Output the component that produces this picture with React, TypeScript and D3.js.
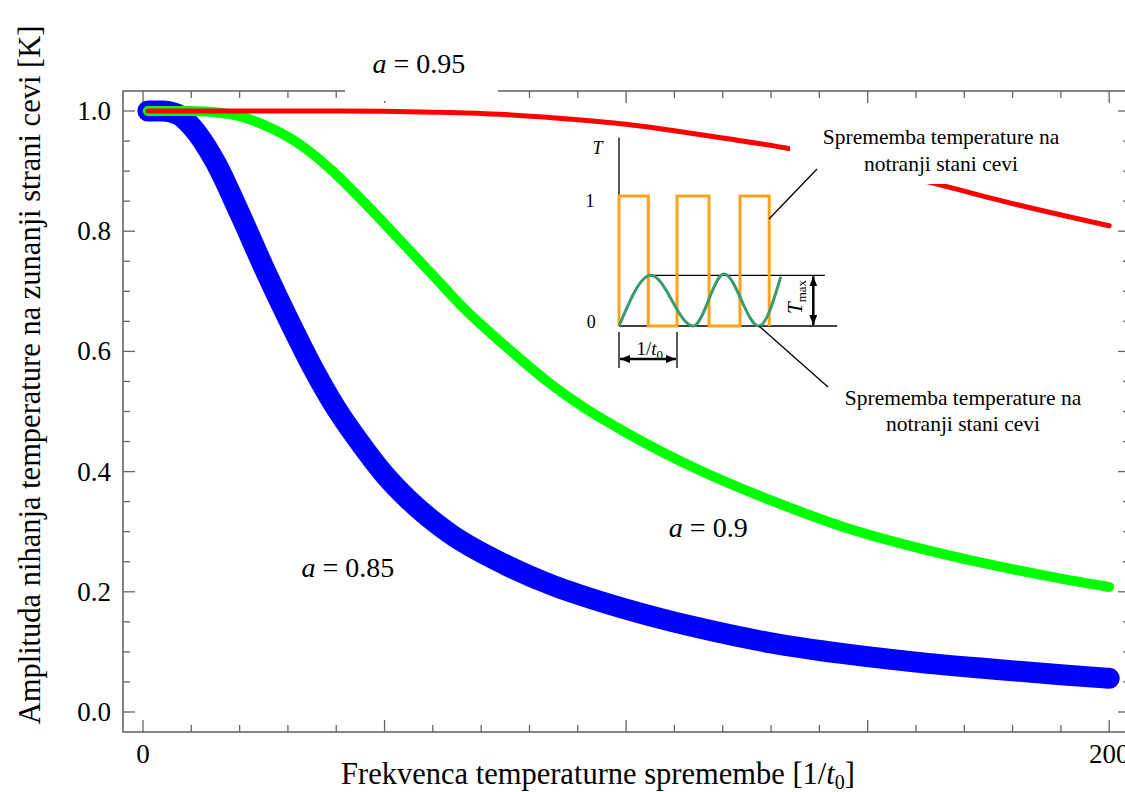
import * as d3 from 'd3';

// ── Data ─────────────────────────────────────────────────────────────────────
const FREQ_085 = [1, 4, 7, 10, 15, 20, 25, 30, 35, 40, 45, 50, 55, 63.5, 75, 85, 95, 105, 115, 130, 145, 160, 175, 190, 200];
const AMP_085  = [1, 1, 0.995, 0.975, 0.915, 0.83, 0.74, 0.655, 0.575, 0.505, 0.447, 0.395, 0.353, 0.297, 0.245, 0.21, 0.183, 0.16, 0.14, 0.115, 0.097, 0.083, 0.072, 0.062, 0.056];

const FREQ_090 = [1, 10, 18, 25, 32, 39, 46, 52.5, 59.5, 66, 77, 84, 91, 100, 115, 130, 145, 160, 175, 190, 200];
const AMP_090  = [1, 1, 0.995, 0.977, 0.947, 0.902, 0.846, 0.791, 0.731, 0.675, 0.595, 0.548, 0.508, 0.465, 0.403, 0.352, 0.308, 0.274, 0.246, 0.222, 0.208];

const FREQ_095 = [1, 20, 40, 60, 75, 86, 100, 110, 120, 134, 150, 165, 180, 200];
const AMP_095  = [1, 1, 1, 0.998, 0.994, 0.988, 0.978, 0.967, 0.955, 0.937, 0.907, 0.877, 0.846, 0.809];

const X_TICK_LABELS = [0, 200];
const Y_TICK_LABELS = [0, 0.2, 0.4, 0.6, 0.8, 1.0];

// inset schematic: square wave switching times (in periods) and response curve
const SQUARE_EDGES = [0, 0.505, 1.0, 1.552, 2.086, 2.59];
const RESP_T = [0, 0.55, 1.28, 1.81, 2.41, 2.79];
const RESP_V = [0, 0.39, 0, 0.4, 0, 0.38];
const T_MAX = 0.39;

// ── Layout ───────────────────────────────────────────────────────────────────
const W = 1125;
const H = 792;
const FONT = "'Liberation Serif', 'Times New Roman', serif";

const BLUE = '#0000ff';
const GREEN = '#00ff00';
const RED = '#ff0000';
const ORANGE = '#ffa31a';
const SEA = '#3a9a6c';
const FRAME = '#444';
const TICK = '#666';

const x = d3.scaleLinear().domain([-4.14, 204.3]).range([123, 1130]);
const y = d3.scaleLinear().domain([-0.0333, 1.0333]).range([732, 91]);

// inset scales
const ix = d3.scaleLinear().domain([0, 1]).range([619, 677]);
const iy = d3.scaleLinear().domain([0, 1]).range([326, 196]);

const line = d3.line<[number, number]>()
  .x(d => x(d[0]))
  .y(d => y(d[1]))
  .curve(d3.curveMonotoneX);

const zip = (a: number[], b: number[]) => a.map((v, i) => [v, b[i]] as [number, number]);

export default function App() {
  const [x0, x1] = x.range();
  const [y0, y1] = y.range();

  const xMajor = d3.range(0, 201, 50);
  const xMinor = d3.range(0, 201, 10).filter(v => v % 50 !== 0);
  const yMajor = d3.range(0, 1.001, 0.2);
  const yMinor = d3.range(0, 1.001, 0.05).filter(v => Math.abs(v / 0.2 - Math.round(v / 0.2)) > 0.01);

  // square wave polyline
  const sq: [number, number][] = [];
  SQUARE_EDGES.forEach((t, i) => {
    const up = i % 2 === 0;
    sq.push([t, up ? 0 : 1]);
    sq.push([t, up ? 1 : 0]);
  });
  const sqPath = d3.line<[number, number]>().x(d => ix(d[0])).y(d => iy(d[1]))(sq) ?? '';
  const respPath = d3.line<[number, number]>()
    .x(d => ix(d[0])).y(d => iy(d[1]))
    .curve(d3.curveMonotoneX)(zip(RESP_T, RESP_V)) ?? '';

  return (
    <svg width={W} height={H} viewBox={`0 0 ${W} ${H}`}
      style={{ position: 'absolute', left: 0, top: 0, background: '#fff' }}
      fontFamily={FONT}>
      <defs>
        <marker id="ah" viewBox="0 0 10 8" refX={10} refY={4} markerWidth={10} markerHeight={8}
          markerUnits="userSpaceOnUse" orient="auto-start-reverse">
          <path d="M0,0 L10,4 L0,8 z" fill="#000" />
        </marker>
      </defs>
      <rect width={W} height={H} fill="#fff" />

      {/* frame */}
      <rect x={x0} y={y1} width={x1 - x0} height={y0 - y1} fill="none" stroke={FRAME} strokeWidth={1.3} />

      {/* x ticks, bottom and top */}
      {xMajor.map(v => (
        <g key={'xM' + v} stroke={TICK} strokeWidth={1.3}>
          <line x1={x(v)} x2={x(v)} y1={y0} y2={y0 - 12} />
          <line x1={x(v)} x2={x(v)} y1={y1} y2={y1 + 12} />
        </g>
      ))}
      {xMinor.map(v => (
        <g key={'xm' + v} stroke={TICK} strokeWidth={1.3}>
          <line x1={x(v)} x2={x(v)} y1={y0} y2={y0 - 7} />
          <line x1={x(v)} x2={x(v)} y1={y1} y2={y1 + 7} />
        </g>
      ))}
      {/* y ticks, left and right */}
      {yMajor.map(v => (
        <g key={'yM' + v} stroke={TICK} strokeWidth={1.3}>
          <line x1={x0} x2={x0 + 12} y1={y(v)} y2={y(v)} />
          <line x1={x1} x2={x1 - 12} y1={y(v)} y2={y(v)} />
        </g>
      ))}
      {yMinor.map(v => (
        <g key={'ym' + v} stroke={TICK} strokeWidth={1.3}>
          <line x1={x0} x2={x0 + 7} y1={y(v)} y2={y(v)} />
          <line x1={x1} x2={x1 - 7} y1={y(v)} y2={y(v)} />
        </g>
      ))}

      {/* tick labels */}
      {X_TICK_LABELS.map(v => (
        <text key={'xl' + v} x={x(v)} y={763} textAnchor="middle" fontSize={27}>{v}</text>
      ))}
      {Y_TICK_LABELS.map(v => (
        <text key={'yl' + v} x={111} y={y(v) + 9} textAnchor="end" fontSize={27}>{v.toFixed(1)}</text>
      ))}

      {/* axis titles */}
      <text x={598} y={784} textAnchor="middle" fontSize={30.5}>
        Frekvenca temperaturne spremembe [1/<tspan fontStyle="italic">t</tspan>
        <tspan fontSize={20} dy={5}>0</tspan><tspan dy={-5}>]</tspan>
      </text>
      <text transform="translate(40,375) rotate(-90)" textAnchor="middle" fontSize={30.5}>
        Amplituda nihanja temperature na zunanji strani cevi [K]
      </text>

      {/* curves */}
      <path d={line(zip(FREQ_085, AMP_085)) ?? ''} fill="none" stroke={BLUE} strokeWidth={21}
        strokeLinecap="round" strokeLinejoin="round" />
      <path d={line(zip(FREQ_090, AMP_090)) ?? ''} fill="none" stroke={GREEN} strokeWidth={10}
        strokeLinecap="round" strokeLinejoin="round" />
      <path d={line(zip(FREQ_095, AMP_095)) ?? ''} fill="none" stroke={RED} strokeWidth={5}
        strokeLinecap="round" strokeLinejoin="round" />

      {/* label boxes (white backgrounds) */}
      <rect x={345} y={30} width={153} height={71} fill="#fff" />
      <rect x={790} y={112} width={302} height={72} fill="#fff" />

      {/* curve labels */}
      <text x={x(57.1)} y={y(1.063)} textAnchor="middle" fontSize={28}>
        <tspan fontStyle="italic">a</tspan> = 0.95
      </text>
      <text x={x(117)} y={y(0.291)} textAnchor="middle" fontSize={28}>
        <tspan fontStyle="italic">a</tspan> = 0.9
      </text>
      <text x={x(42.4)} y={y(0.2246)} textAnchor="middle" fontSize={28}>
        <tspan fontStyle="italic">a</tspan> = 0.85
      </text>

      {/* inset schematic */}
      <g>
        <line x1={ix(0)} x2={ix(0)} y1={iy(1.45)} y2={iy(0)} stroke="#000" strokeWidth={1.3} />
        <line x1={ix(0)} x2={ix(3.76)} y1={iy(0)} y2={iy(0)} stroke="#000" strokeWidth={1.3} />
        <line x1={ix(RESP_T[1])} x2={ix(3.55)} y1={iy(T_MAX)} y2={iy(T_MAX)} stroke="#000" strokeWidth={1.3} />
        <path d={sqPath} fill="none" stroke={ORANGE} strokeWidth={3} />
        <path d={respPath} fill="none" stroke={SEA} strokeWidth={3} />

        {/* Tmax dimension */}
        <line x1={ix(3.35)} x2={ix(3.35)} y1={iy(T_MAX) + 1} y2={iy(0) - 1} stroke="#000" strokeWidth={2.5}
          markerStart="url(#ah)" markerEnd="url(#ah)" />
        <text transform={`translate(${ix(3.03) + 7},${iy(0.223)}) rotate(-90)`} textAnchor="middle" fontSize={21}>
          <tspan fontStyle="italic">T</tspan><tspan fontSize={13} dy={4}>max</tspan>
        </text>

        {/* 1/t0 dimension */}
        <line x1={ix(0)} x2={ix(0)} y1={iy(-0.046)} y2={iy(-0.323)} stroke="#000" strokeWidth={1.3} />
        <line x1={ix(1)} x2={ix(1)} y1={iy(-0.046)} y2={iy(-0.323)} stroke="#000" strokeWidth={1.3} />
        <line x1={ix(0) + 1} x2={ix(1) - 1} y1={iy(-0.254)} y2={iy(-0.254)} stroke="#000" strokeWidth={2.5}
          markerStart="url(#ah)" markerEnd="url(#ah)" />
        <text x={ix(0.53)} y={iy(-0.223)} textAnchor="middle" fontSize={19}>
          1/<tspan fontStyle="italic">t</tspan><tspan fontSize={13} dy={4}>0</tspan>
        </text>

        <text x={ix(-0.37)} y={iy(1.32)} textAnchor="middle" fontSize={18} fontStyle="italic">T</text>
        <text x={ix(-0.5)} y={iy(0.915)} textAnchor="middle" fontSize={18}>1</text>
        <text x={ix(-0.48)} y={iy(-0.015)} textAnchor="middle" fontSize={18}>0</text>

        {/* leaders */}
        <line x1={769} y1={219} x2={817} y2={169} stroke="#000" strokeWidth={1.3} />
        <line x1={759} y1={326} x2={828} y2={387} stroke="#000" strokeWidth={1.3} />
      </g>

      {/* annotations */}
      <text x={941} textAnchor="middle" fontSize={21.5}>
        <tspan x={941} y={144}>Sprememba temperature na</tspan>
        <tspan x={941} y={171}>notranji stani cevi</tspan>
      </text>
      <text x={963} textAnchor="middle" fontSize={21.5}>
        <tspan x={963} y={405}>Sprememba temperature na</tspan>
        <tspan x={963} y={431}>notranji stani cevi</tspan>
      </text>
    </svg>
  );
}
